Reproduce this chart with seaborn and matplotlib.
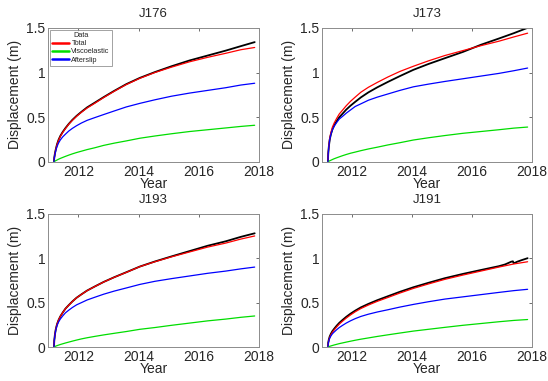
import numpy as np
import pandas as pd
import seaborn as sns
import matplotlib.pyplot as plt

# time samples (decimal year)
t = [2011.19, 2011.20, 2011.22, 2011.25, 2011.29, 2011.34, 2011.40, 2011.48, 2011.57, 2011.68,
     2011.80, 2011.94, 2012.10, 2012.29, 2012.54, 2012.84, 2013.19, 2013.59, 2014.04, 2014.54,
     2015.09, 2015.69, 2016.29, 2016.89, 2017.39, 2017.85]

# J176
j176_after = [0, .04, .08, .125, .17, .21, .245, .28, .31, .345, .375, .405, .435, .465, .495, .53,
              .57, .615, .655, .695, .735, .77, .80, .83, .86, .88]
j176_visco = [0, .003, .008, .014, .021, .03, .039, .05, .062, .076, .09, .105, .12, .138, .158, .185,
              .21, .235, .265, .29, .315, .34, .36, .38, .397, .41]
j176_total = [0, .043, .088, .139, .191, .24, .284, .33, .372, .421, .465, .51, .555, .603, .655, .72,
              .79, .865, .935, 1.0, 1.06, 1.12, 1.17, 1.215, 1.255, 1.28]
j176_data = [0, .045, .09, .14, .195, .245, .29, .335, .378, .425, .47, .515, .56, .61, .662, .725,
             .795, .87, .94, 1.005, 1.07, 1.135, 1.19, 1.245, 1.295, 1.34]

# J173
j173_after = [0, .09, .17, .25, .31, .36, .40, .44, .48, .51, .545, .58, .62, .65, .69, .725,
              .76, .80, .84, .87, .90, .93, .96, .99, 1.02, 1.05]
j173_visco = [0, .003, .007, .013, .019, .027, .036, .046, .057, .07, .083, .097, .11, .126, .145, .165,
              .19, .215, .245, .27, .295, .32, .34, .36, .378, .39]
j173_total = [0, .095, .18, .265, .33, .39, .436, .486, .537, .58, .628, .677, .725, .78, .835, .89,
              .95, 1.012, 1.07, 1.13, 1.19, 1.245, 1.30, 1.35, 1.398, 1.44]
j173_data = [0, .09, .17, .25, .31, .365, .41, .455, .50, .54, .585, .628, .672, .722, .778, .835,
             .895, .96, 1.03, 1.095, 1.16, 1.23, 1.31, 1.38, 1.44, 1.50]

# J193
j193_after = [0, .07, .13, .19, .24, .28, .315, .35, .385, .415, .445, .475, .50, .53, .56, .595,
              .63, .665, .705, .74, .77, .80, .83, .855, .88, .90]
j193_visco = [0, .002, .006, .011, .016, .022, .029, .037, .046, .056, .067, .079, .092, .105, .12, .137,
              .155, .175, .20, .22, .245, .27, .295, .315, .335, .35]
j193_total = [0, .072, .136, .201, .256, .302, .344, .387, .431, .471, .512, .554, .592, .635, .68, .732,
              .785, .84, .905, .96, 1.015, 1.07, 1.125, 1.17, 1.215, 1.25]
j193_data = [0, .07, .135, .20, .255, .302, .345, .388, .432, .472, .513, .555, .593, .636, .681, .733,
             .786, .842, .906, .963, 1.02, 1.08, 1.14, 1.19, 1.24, 1.28]

# J191 (data has its own samples because of the small dip near 2017.4)
j191_after = [0, .04, .07, .10, .125, .15, .17, .195, .22, .245, .27, .295, .32, .345, .37, .395,
              .42, .45, .48, .51, .54, .565, .59, .615, .635, .65]
j191_visco = [0, .002, .005, .009, .013, .018, .024, .031, .039, .047, .056, .066, .077, .089, .103, .12,
              .138, .158, .18, .20, .222, .245, .265, .285, .30, .31]
j191_total = [0, .042, .075, .109, .138, .168, .194, .226, .259, .292, .326, .361, .397, .434, .473, .515,
              .558, .608, .66, .71, .762, .81, .855, .90, .935, .96]
t_j191_data = [2011.19, 2011.20, 2011.22, 2011.25, 2011.29, 2011.34, 2011.40, 2011.48, 2011.57, 2011.68,
               2011.80, 2011.94, 2012.10, 2012.29, 2012.54, 2012.84, 2013.19, 2013.59, 2014.04, 2014.54,
               2015.09, 2015.69, 2016.29, 2016.89, 2017.10, 2017.30, 2017.36, 2017.38, 2017.44, 2017.50,
               2017.65, 2017.85]
j191_data = [0, .05, .085, .12, .15, .18, .207, .24, .273, .306, .34, .375, .41, .447, .486, .528,
             .572, .622, .673, .723, .775, .823, .867, .91, .93, .96, .965, .945, .95, .96,
             .978, 1.0]

stations = [
    ("J176", t, j176_data, j176_total, j176_visco, j176_after),
    ("J173", t, j173_data, j173_total, j173_visco, j173_after),
    ("J193", t, j193_data, j193_total, j193_visco, j193_after),
    ("J191", t_j191_data, j191_data, j191_total, j191_visco, j191_after),
]

sns.set_style("white")
plt.rcParams['font.family'] = ['Liberation Sans', 'DejaVu Sans']

fig = plt.figure(figsize=(5.48, 3.81), dpi=100)
positions = [
    [0.088, 0.575, 0.385, 0.352],
    [0.588, 0.575, 0.383, 0.352],
    [0.088, 0.089, 0.385, 0.350],
    [0.588, 0.089, 0.383, 0.350],
]

for (name, td, data, total, visco, after), pos in zip(stations, positions):
    ax = fig.add_axes(pos)
    sns.lineplot(x=td, y=data, color='black', linewidth=1.3, ax=ax)
    sns.lineplot(x=t, y=total, color='#ff0000', linewidth=0.9, ax=ax, label='Total')
    sns.lineplot(x=t, y=visco, color='#00dd00', linewidth=0.9, ax=ax, label='Viscoelastic')
    sns.lineplot(x=t, y=after, color='#0000ff', linewidth=0.9, ax=ax, label='Afterslip')
    ax.set_xlim(2011, 2018)
    ax.set_ylim(0, 1.5)
    ax.set_xticks([2012, 2014, 2016, 2018])
    ax.set_yticks([0, 0.5, 1, 1.5])
    ax.set_yticklabels(['0', '0.5', '1', '1.5'])
    ax.tick_params(direction='in', length=2.5, width=0.6, color='#555555',
                   labelsize=10, top=True, right=True, pad=2)
    for s in ax.spines.values():
        s.set_color('#8c8c8c')
        s.set_linewidth(0.7)
    ax.set_title(name, fontsize=9.5, pad=8)
    ax.set_xlabel('Year', fontsize=10, labelpad=-1)
    ax.set_ylabel('Displacement (m)', fontsize=10, labelpad=3)
    if name == "J176":
        leg = ax.legend(title='Data', loc='upper left', fontsize=5.3, title_fontsize=5.3,
                        frameon=True, fancybox=False, handlelength=2.3, handletextpad=0.3,
                        borderpad=0.3, labelspacing=0.15, borderaxespad=0.25)
        leg.get_frame().set_edgecolor('#777777')
        leg.get_frame().set_linewidth(0.6)
        for h in leg.get_lines():
            h.set_linewidth(1.8)
    else:
        ax.get_legend().remove()

fig.savefig('out.png', dpi=100)
